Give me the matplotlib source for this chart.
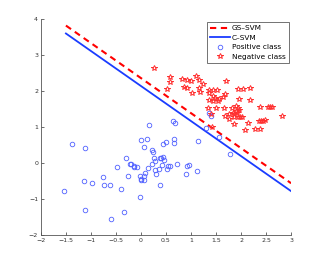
import matplotlib
matplotlib.use("Agg")
import matplotlib.pyplot as plt
import numpy as np

# Decision boundaries (endpoints)
line_x = [-1.5, 3.0]
gs_svm_y = [3.82, -0.56]
c_svm_y = [3.60, -0.78]

# Positive class points
pos_x = [-1.37, -1.11, -0.29, -0.48, -0.21, -0.14, -0.07, -0.25, -0.75, -1.13,
         -0.97, -0.73, -0.62, -0.40, -1.53, -0.01, -1.12, -0.33, -0.59, 0.01,
         0.13, 0.07, 0.23, 0.25, 0.26, 0.28, 0.23, 0.15, 0.29, 0.36,
         0.30, -0.01, 0.07, 0.01, 0.07, 0.39, 0.38, 0.17, 0.45, 0.50,
         0.41, 0.45, 0.47, 0.55, 0.43, 0.53, 0.08, -0.20, -0.13, 0.00,
         0.67, 0.67, 1.13, 0.58, 0.73, 0.91, 0.95, 0.89, 1.11, 1.55,
         1.78, 0.65, 0.68, 1.29, 1.36, 1.40]
pos_y = [0.52, 0.43, 0.13, -0.12, -0.03, -0.10, -0.11, -0.36, -0.38, -0.50,
         -0.56, -0.61, -0.61, -0.71, -0.78, -0.94, -1.30, -1.35, -1.56, 0.65,
         0.68, 0.45, 0.36, 0.31, 0.13, 0.05, -0.03, -0.13, -0.18, -0.17,
         -0.30, -0.37, -0.37, -0.47, -0.48, 0.15, -0.60, 1.06, 0.53, 0.58,
         0.15, 0.17, 0.09, -0.07, -0.06, -0.16, -0.27, -0.02, -0.08, -0.44,
         0.68, 0.56, 0.62, -0.08, -0.02, -0.09, -0.04, -0.30, -0.22, 0.72,
         0.24, 1.17, 1.12, 0.98, 1.40, 1.31]

# Negative class points
neg_x = [0.26, 0.58, 0.59, 0.81, 0.91, 1.00, 1.09, 1.16, 0.86, 0.92,
         1.02, 1.15, 0.52, 1.23, 1.18, 1.70, 1.93, 2.03, 2.17, 1.35,
         1.44, 1.51, 1.35, 1.43, 1.48, 1.56, 1.63, 1.67, 1.54, 1.36,
         1.43, 1.95, 2.17, 1.33, 1.50, 1.66, 1.81, 1.89, 1.93, 1.90,
         1.95, 1.97, 1.94, 2.02, 2.38, 2.53, 2.57, 2.61, 1.75, 1.85,
         2.13, 2.07, 2.27, 2.37, 2.35, 2.39, 2.43, 2.48, 2.81, 1.42,
         1.39, 1.68, 1.85, 1.92, 1.83, 1.86, 1.76]
neg_y = [2.63, 2.40, 2.26, 2.34, 2.31, 2.28, 2.41, 2.31, 2.12, 2.09,
         1.94, 2.09, 2.06, 2.19, 1.98, 2.29, 2.06, 2.06, 2.08, 2.04,
         2.04, 2.04, 1.95, 1.85, 1.80, 1.79, 1.83, 1.92, 1.72, 1.76,
         1.72, 1.79, 1.76, 1.53, 1.53, 1.53, 1.53, 1.59, 1.53, 1.45,
         1.48, 1.29, 1.29, 1.29, 1.56, 1.56, 1.56, 1.56, 1.23, 1.08,
         1.12, 0.93, 0.94, 0.95, 1.18, 1.18, 1.18, 1.20, 1.31, 1.00,
         1.36, 1.31, 1.37, 1.39, 1.39, 1.29, 1.36]

x_ticks = [-2, -1.5, -1, -0.5, 0, 0.5, 1, 1.5, 2, 2.5, 3]
x_tick_labels = ["\u22122", "\u22121.5", "\u22121", "\u22120.5", "0", "0.5", "1", "1.5", "2", "2.5", "3"]
y_ticks = [-2, -1, 0, 1, 2, 3, 4]
y_tick_labels = ["\u22122", "\u22121", "0", "1", "2", "3", "4"]

fig = plt.figure(figsize=(3.22, 2.65), dpi=100)
ax = fig.add_axes([0.127, 0.113, 0.777, 0.815])

ax.plot(line_x, gs_svm_y, color="red", linestyle=(0, (3, 2.2)), linewidth=1.5, label="GS\u2013SVM")
ax.plot(line_x, c_svm_y, color="#1a3cff", linestyle="-", linewidth=1.3, label="C\u2013SVM")
ax.plot(pos_x, pos_y, linestyle="none", marker="o", markersize=3.3, markerfacecolor="none",
        markeredgecolor="#5060ff", markeredgewidth=0.6, label="Positive class")
ax.plot(neg_x, neg_y, linestyle="none", marker="*", markersize=4.2, markerfacecolor="none",
        markeredgecolor="#ff3030", markeredgewidth=0.7, label="Negative class")

ax.set_xlim(-2, 3)
ax.set_ylim(-2, 4)
ax.set_xticks(x_ticks)
ax.set_xticklabels(x_tick_labels)
ax.set_yticks(y_ticks)
ax.set_yticklabels(y_tick_labels)
ax.tick_params(direction="in", length=2, width=0.5, labelsize=4.5, colors="#333333", pad=2)
for s in ["top", "right"]:
    ax.spines[s].set_visible(False)
for s in ["left", "bottom"]:
    ax.spines[s].set_color("#555555")
    ax.spines[s].set_linewidth(0.6)

leg = ax.legend(loc="upper right", bbox_to_anchor=(0.99, 0.985), fontsize=5.3, frameon=True,
                fancybox=False, edgecolor="#333333", handlelength=2.7, handletextpad=0.3,
                borderpad=0.4, labelspacing=0.45, borderaxespad=0)
leg.get_frame().set_linewidth(0.6)

fig.savefig("out.png", dpi=100)
